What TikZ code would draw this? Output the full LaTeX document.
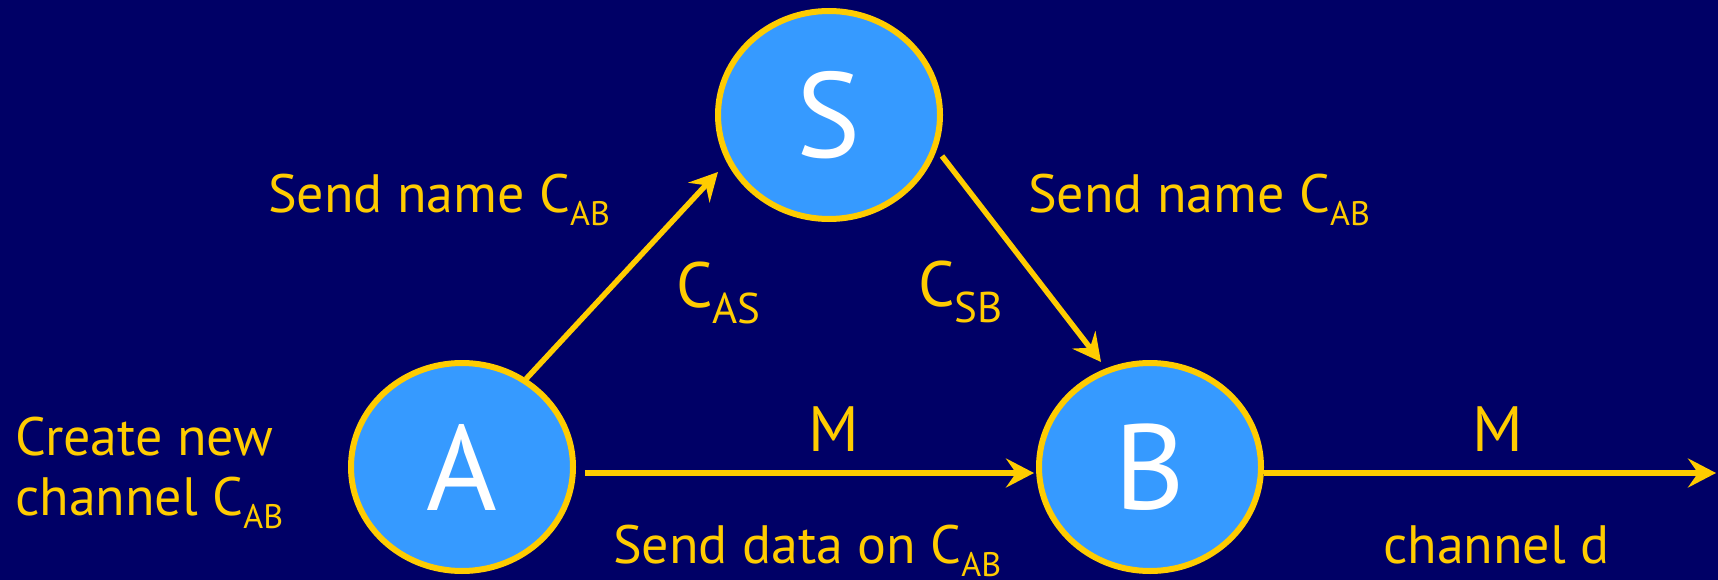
\documentclass[tikz,border=0pt]{standalone}
\usepackage{fontspec}
\setmainfont{PT Sans}
\usetikzlibrary{arrows.meta,shapes.geometric}
\definecolor{navy}{RGB}{0,0,102}
\definecolor{nodeblue}{RGB}{54,154,255}
\definecolor{gold}{RGB}{255,204,0}
\newcommand\lbl[1]{\fontsize{54}{60}\selectfont #1}
\newcommand\biglbl[1]{\fontsize{64}{64}\selectfont #1}
\newcommand\subs[1]{\raisebox{-13pt}{\fontsize{34}{34}\selectfont #1}}
\newcommand\subb[1]{\raisebox{-16pt}{\fontsize{43}{43}\selectfont #1}}
\begin{document}
\begin{tikzpicture}[x=1pt,y=-1pt,
  party/.style={ellipse, draw=gold, line width=6pt, fill=nodeblue,
    minimum width=222pt, minimum height=208pt, inner sep=0pt,
    text=white, font=\fontsize{121}{121}\selectfont},
  msg/.style={draw=gold, line width=5.5pt,
    -{Stealth[length=28pt, width=29pt, inset=10pt]}},
  txt/.style={text=gold, inner sep=0pt, anchor=base west}]
\fill[navy] (0,0) rectangle (1718,580);
\useasboundingbox (0,0) rectangle (1718,580);

% the three parties
\node[party] (S) at (829,115) {S};
\node[party] (A) at (462,467) {A};
\node[party] (B) at (1150,467) {B};

% channel endpoints
\coordinate (aout) at (585,473);
\coordinate (bin)  at (1034,473);
\coordinate (bout) at (1264,473);
\coordinate (dend) at (1716,473);
\coordinate (as0) at (526,379);
\coordinate (as1) at (718,172);
\coordinate (sb0) at (942,156);
\coordinate (sb1) at (1101,362);

\draw[msg] (as0) -- (as1);
\draw[msg] (sb0) -- (sb1);
\draw[msg] (aout) -- (bin);
\draw[msg] (bout) -- (dend);

% labels
\node[txt] (sendL) at (268,213) {\lbl{Send name C\subs{AB}}};
\node[txt] (sendR) at (1028,213) {\lbl{Send name C\subs{AB}}};
\node[txt] (cas) at (676,307) {\biglbl{C\subb{AS}}};
\node[txt] (csb) at (918,306) {\biglbl{C\subb{SB}}};
\node[txt] (create1) at (15,455) {\lbl{Create new}};
\node[txt] (create2) at (15,515) {\lbl{channel C\subs{AB}}};
\node[text=gold, inner sep=0pt, anchor=base] (m1) at (834,451) {\biglbl{M}};
\node[text=gold, inner sep=0pt, anchor=base] (m2) at (1498,451) {\biglbl{M}};
\node[txt] (data) at (613,563) {\lbl{Send data on C\subs{AB}}};
\node[txt] (chd) at (1383,563) {\lbl{channel d}};
\end{tikzpicture}
\end{document}
